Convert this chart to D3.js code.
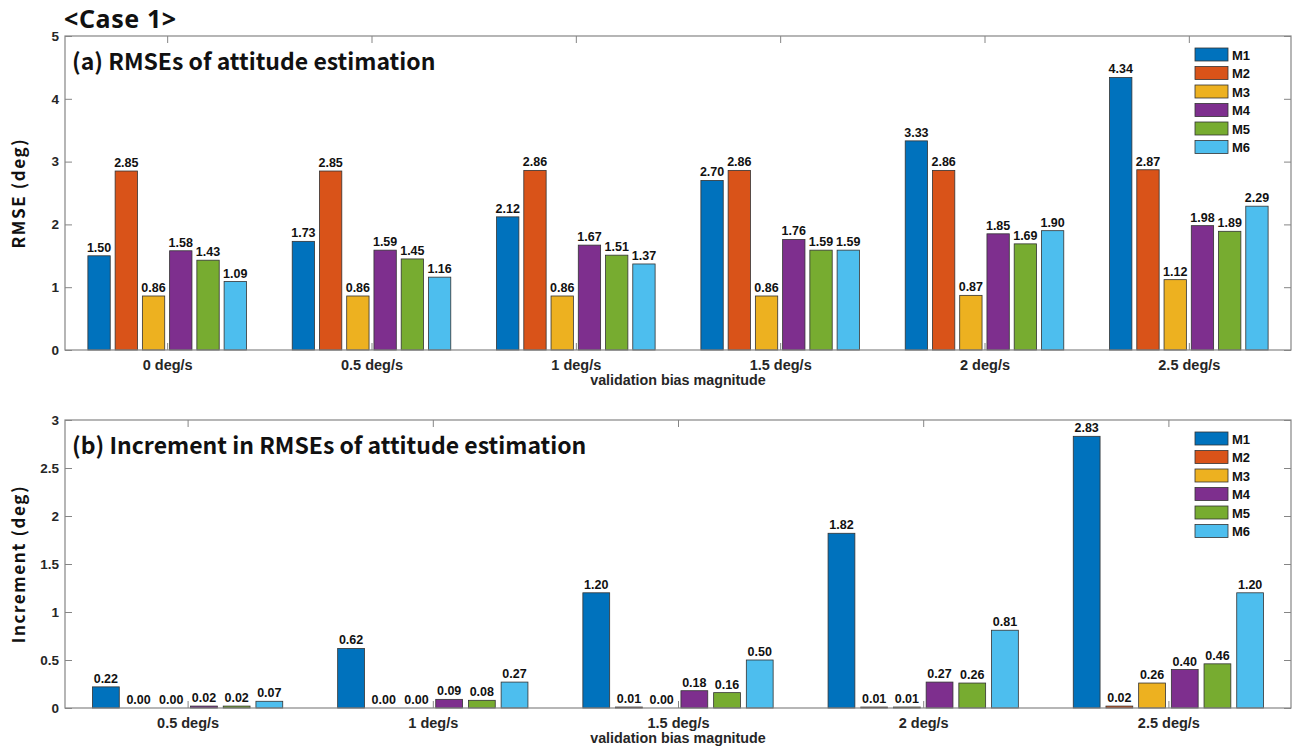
<!DOCTYPE html>
<html>
<head>
<meta charset="utf-8">
<script src="https://cdn.jsdelivr.net/npm/d3@7"></script>
<style>
  body { margin: 0; background: #fff; }
  svg text { font-family: 'Liberation Sans', Arial, sans-serif; font-weight: bold; }
  .title { font-family: 'Noto Sans CJK KR', 'Noto Sans', sans-serif !important; }
</style>
</head>
<body>
<svg id="chart" width="1298" height="749"></svg>
<script>
const methods = ['M1', 'M2', 'M3', 'M4', 'M5', 'M6'];
const colors = ['#0072BD', '#D95319', '#EDB120', '#7E2F8E', '#77AC30', '#4DBEEE'];

const rmseCategories = ['0 deg/s', '0.5 deg/s', '1 deg/s', '1.5 deg/s', '2 deg/s', '2.5 deg/s'];
const rmseValues = [
  [1.50, 2.85, 0.86, 1.58, 1.43, 1.09],
  [1.73, 2.85, 0.86, 1.59, 1.45, 1.16],
  [2.12, 2.86, 0.86, 1.67, 1.51, 1.37],
  [2.70, 2.86, 0.86, 1.76, 1.59, 1.59],
  [3.33, 2.86, 0.87, 1.85, 1.69, 1.90],
  [4.34, 2.87, 1.12, 1.98, 1.89, 2.29],
];
const rmseTicks = [0, 1, 2, 3, 4, 5];

const incCategories = ['0.5 deg/s', '1 deg/s', '1.5 deg/s', '2 deg/s', '2.5 deg/s'];
const incValues = [
  [0.22, 0.00, 0.00, 0.02, 0.02, 0.07],
  [0.62, 0.00, 0.00, 0.09, 0.08, 0.27],
  [1.20, 0.01, 0.00, 0.18, 0.16, 0.50],
  [1.82, 0.01, 0.01, 0.27, 0.26, 0.81],
  [2.83, 0.02, 0.26, 0.40, 0.46, 1.20],
];
const incTicks = [0, 0.5, 1, 1.5, 2, 2.5, 3];

const svg = d3.select('#chart');
const axisColor = '#858585';
const left = 65, right = 1291;

svg.append('text')
  .attr('x', 64).attr('y', 28)
  .attr('font-size', 25)
  .attr('letter-spacing', 0.6)
  .attr('fill', '#111')
  .style('font-family', "'Noto Sans', 'Open Sans', sans-serif")
  .text('<Case 1>');

function drawPanel(opts) {
  const { top, bottom, categories, values, ticks, ymax, title, ylabel, tickFormat } = opts;
  const g = svg.append('g');

  const x0 = d3.scaleBand().domain(categories).range([left, right]).padding(0);
  const x1 = d3.scaleBand().domain(methods).range([0, x0.bandwidth()])
    .paddingInner(0.18).paddingOuter(0.84);
  const y = d3.scaleLinear().domain([0, ymax]).range([bottom, top]);

  // bars
  const groups = g.selectAll('g.grp').data(values).join('g')
    .attr('class', 'grp')
    .attr('transform', (d, i) => `translate(${x0(categories[i])},0)`);

  groups.selectAll('rect').data(d => d.map((v, j) => ({ v, j }))).join('rect')
    .attr('x', d => x1(methods[d.j]))
    .attr('y', d => y(d.v))
    .attr('width', x1.bandwidth())
    .attr('height', d => y(0) - y(d.v))
    .attr('fill', d => colors[d.j])
    .attr('stroke', '#333')
    .attr('stroke-width', 0.8);

  groups.selectAll('text').data(d => d.map((v, j) => ({ v, j }))).join('text')
    .attr('x', d => x1(methods[d.j]) + x1.bandwidth() / 2)
    .attr('y', d => y(d.v) - 4)
    .attr('text-anchor', 'middle')
    .attr('font-size', 12.5)
    .attr('fill', '#111')
    .text(d => d.v.toFixed(2));

  // axes box
  g.append('rect')
    .attr('x', left).attr('y', top)
    .attr('width', right - left).attr('height', bottom - top)
    .attr('fill', 'none').attr('stroke', axisColor).attr('stroke-width', 1.2);

  const yAxisL = d3.axisLeft(y).tickValues(ticks).tickSizeInner(-7).tickSizeOuter(0)
    .tickPadding(6).tickFormat(tickFormat);
  const ya = g.append('g').attr('transform', `translate(${left},0)`).call(yAxisL);
  ya.select('.domain').remove();
  ya.selectAll('line').attr('stroke', axisColor);
  ya.selectAll('text').attr('font-size', 13.5).attr('fill', '#262626')
    .style('font-family', "'Liberation Sans', Arial, sans-serif").style('font-weight', 'bold');

  const yAxisR = d3.axisRight(y).tickValues(ticks).tickSizeInner(-7).tickSizeOuter(0).tickFormat('');
  const yr = g.append('g').attr('transform', `translate(${right},0)`).call(yAxisR);
  yr.select('.domain').remove();
  yr.selectAll('line').attr('stroke', axisColor);

  const xCenter = d3.scalePoint().domain(categories).range([x0(categories[0]) + x0.bandwidth() / 2,
    x0(categories[categories.length - 1]) + x0.bandwidth() / 2]);
  const xAxisB = d3.axisBottom(xCenter).tickSizeInner(-7).tickSizeOuter(0).tickPadding(10);
  const xb = g.append('g').attr('transform', `translate(0,${bottom})`).call(xAxisB);
  xb.select('.domain').remove();
  xb.selectAll('line').attr('stroke', axisColor);
  xb.selectAll('text').attr('font-size', 14.5).attr('fill', '#262626')
    .style('font-family', "'Liberation Sans', Arial, sans-serif").style('font-weight', 'bold');

  const xAxisT = d3.axisTop(xCenter).tickSizeInner(-7).tickSizeOuter(0).tickFormat('');
  const xt = g.append('g').attr('transform', `translate(0,${top})`).call(xAxisT);
  xt.select('.domain').remove();
  xt.selectAll('line').attr('stroke', axisColor);

  // labels
  g.append('text')
    .attr('x', (left + right) / 2).attr('y', bottom + 34.5)
    .attr('text-anchor', 'middle').attr('font-size', 14.3).attr('fill', '#262626')
    .text('validation bias magnitude');

  g.append('text')
    .attr('class', 'title')
    .attr('transform', `translate(25,${(top + bottom) / 2}) rotate(-90)`)
    .attr('text-anchor', 'middle').attr('font-size', 17).attr('letter-spacing', 1.6)
    .attr('fill', '#111')
    .text(ylabel);

  g.append('text')
    .attr('class', 'title')
    .attr('x', 72).attr('y', top + 34)
    .attr('font-size', 23).attr('fill', '#111')
    .text(title);

  // legend
  const leg = g.append('g').attr('transform', `translate(1195,${top + 12})`);
  const rows = leg.selectAll('g').data(methods).join('g')
    .attr('transform', (d, i) => `translate(0,${i * 18.5})`);
  rows.append('rect')
    .attr('width', 33).attr('height', 13)
    .attr('fill', (d, i) => colors[i]).attr('stroke', '#333').attr('stroke-width', 0.8);
  rows.append('text')
    .attr('x', 37).attr('y', 11.5)
    .attr('font-size', 13).attr('fill', '#111')
    .text(d => d);
}

drawPanel({
  top: 36, bottom: 350, categories: rmseCategories, values: rmseValues,
  ticks: rmseTicks, ymax: 5, title: '(a) RMSEs of attitude estimation',
  ylabel: 'RMSE (deg)', tickFormat: d3.format('d')
});

drawPanel({
  top: 420, bottom: 708, categories: incCategories, values: incValues,
  ticks: incTicks, ymax: 3, title: '(b) Increment in RMSEs of attitude estimation',
  ylabel: 'Increment (deg)', tickFormat: d => String(d)
});
</script>
</body>
</html>
